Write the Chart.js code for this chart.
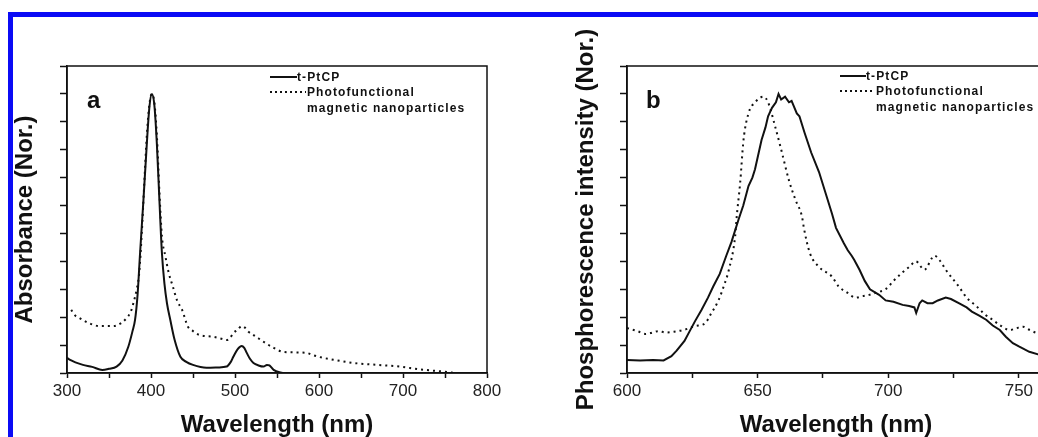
<!DOCTYPE html>
<html>
<head>
<meta charset="utf-8">
<script src="https://cdn.jsdelivr.net/npm/chart.js@4/dist/chart.umd.min.js"></script>
<style>
  html, body { margin: 0; padding: 0; background: #fff; }
  body { width: 1038px; height: 437px; overflow: hidden; position: relative; font-family: "Liberation Sans", Arial, sans-serif; }
  canvas { position: absolute; top: 0; }
  #frame { position: absolute; left: 8px; top: 12px; width: 1040px; height: 440px; border-top: 5px solid #0b0bf5; border-left: 5px solid #0b0bf5; box-sizing: border-box; pointer-events: none; }
  .tag { position: absolute; font: bold 24px "Liberation Sans", Arial, sans-serif; color: #111; line-height: 1; }
  .leg { position: absolute; font: bold 12px "Liberation Sans", Arial, sans-serif; letter-spacing: 1.1px; color: #111; line-height: 1; white-space: nowrap; }
  .solid { position: absolute; height: 2px; background: #111; }
  .dots { position: absolute; height: 2px; background: repeating-linear-gradient(to right, #111 0 2px, transparent 2px 5px); }
</style>
</head>
<body>
<canvas id="chartA" width="519" height="437" style="left:0"></canvas>
<canvas id="chartB" width="500" height="437" style="left:560px"></canvas>
<div id="frame"></div>

<div class="tag" style="left:87px;top:88px">a</div>
<div class="solid" style="left:270px;top:76px;width:27px"></div>
<div class="leg" style="left:297px;top:71px">t-PtCP</div>
<div class="dots" style="left:270px;top:91px;width:36px"></div>
<div class="leg" style="left:307px;top:86px">Photofunctional</div>
<div class="leg" style="left:307px;top:102px">magnetic nanoparticles</div>

<div class="tag" style="left:646px;top:88px">b</div>
<div class="solid" style="left:840px;top:75px;width:26px"></div>
<div class="leg" style="left:866px;top:70px">t-PtCP</div>
<div class="dots" style="left:840px;top:90px;width:35px"></div>
<div class="leg" style="left:876px;top:85px">Photofunctional</div>
<div class="leg" style="left:876px;top:101px">magnetic nanoparticles</div>

<script>
// --- panel a: absorbance ---
const absWl = [300, 305, 310, 319, 330, 342, 350, 359, 366, 373, 378, 381, 384, 387, 391, 395, 398, 401, 404, 407, 410, 413, 416, 419, 423, 428, 435, 442, 450, 466, 480, 490, 495, 498, 503, 508, 511, 514, 518, 522, 528, 534, 538, 541, 546, 554, 560, 580, 600];
const absPtcp = [0.054, 0.045, 0.038, 0.029, 0.022, 0.011, 0.015, 0.023, 0.045, 0.094, 0.15, 0.19, 0.28, 0.43, 0.62, 0.82, 0.95, 1.0, 0.96, 0.82, 0.62, 0.43, 0.32, 0.25, 0.19, 0.12, 0.058, 0.04, 0.029, 0.019, 0.02, 0.023, 0.04, 0.058, 0.085, 0.097, 0.09, 0.072, 0.05, 0.036, 0.027, 0.023, 0.029, 0.027, 0.011, 0.002, 0, 0, 0];

const absWlNp = [305, 310, 315, 325, 339, 355, 365, 371, 376, 379, 383, 386, 389, 392, 395, 398, 401, 404, 407, 410, 413, 417, 421, 426, 431, 437, 444, 450, 458, 474, 485, 490, 494, 498, 503, 508, 512, 516, 522, 530, 538, 545, 557, 570, 585, 593, 601, 620, 641, 670, 696, 720, 748, 762];
const absNp = [0.226, 0.205, 0.197, 0.18, 0.168, 0.168, 0.18, 0.197, 0.22, 0.25, 0.30, 0.36, 0.5, 0.68, 0.85, 0.96, 1.0, 0.97, 0.85, 0.65, 0.49, 0.42, 0.36, 0.31, 0.26, 0.226, 0.166, 0.15, 0.136, 0.13, 0.122, 0.118, 0.125, 0.143, 0.155, 0.168, 0.162, 0.148, 0.136, 0.12, 0.104, 0.092, 0.076, 0.074, 0.072, 0.064, 0.057, 0.046, 0.036, 0.029, 0.023, 0.013, 0.005, 0];

// --- panel b: phosphorescence ---
const phWl = [600, 605, 610, 614, 617, 619, 622, 624, 626, 628.5, 631, 633, 635.5, 638, 640, 642.7, 644.5, 646.5, 648, 649, 651.5, 653, 654, 655.5, 657, 658, 659, 660.5, 662, 663, 665, 666, 668, 670.5, 673.5, 676, 678.5, 680, 683, 684.5, 686, 687, 689, 691, 693, 696.5, 699, 702, 705.5, 708, 710, 710.7, 712, 713, 715, 717, 719, 722, 724, 727, 730, 732, 735, 737.6, 740, 742.7, 745, 747.7, 750, 754, 758, 760];
const phPtcp = [0.047, 0.045, 0.047, 0.045, 0.06, 0.08, 0.115, 0.15, 0.185, 0.226, 0.27, 0.31, 0.355, 0.42, 0.47, 0.55, 0.60, 0.67, 0.70, 0.73, 0.835, 0.88, 0.92, 0.95, 0.97, 1.0, 0.98, 0.99, 0.97, 0.975, 0.93, 0.92, 0.86, 0.79, 0.72, 0.645, 0.57, 0.52, 0.465, 0.44, 0.42, 0.405, 0.37, 0.33, 0.30, 0.28, 0.26, 0.255, 0.244, 0.24, 0.235, 0.215, 0.25, 0.26, 0.25, 0.25, 0.26, 0.27, 0.265, 0.25, 0.235, 0.22, 0.205, 0.19, 0.17, 0.154, 0.13, 0.107, 0.095, 0.076, 0.065, 0.06];

const phWlNp = [600, 604, 607, 609, 612, 615, 618, 622, 626, 630, 632, 635, 637, 639, 641.4, 642, 643.3, 644.6, 646.5, 649, 652.3, 654, 656.8, 659.3, 662, 664.5, 667, 667.7, 670, 673.5, 678.5, 681, 684, 687.6, 690, 692.7, 696, 699, 702, 705.4, 708, 710.6, 713.8, 717.7, 720, 722, 727, 730, 733.7, 737, 740, 743, 746.5, 749, 751.5, 754, 757, 760];
const phNp = [0.161, 0.15, 0.14, 0.143, 0.15, 0.145, 0.148, 0.155, 0.168, 0.179, 0.21, 0.26, 0.31, 0.37, 0.49, 0.56, 0.68, 0.835, 0.93, 0.97, 0.99, 0.97, 0.88, 0.79, 0.69, 0.62, 0.56, 0.52, 0.43, 0.38, 0.345, 0.31, 0.29, 0.27, 0.275, 0.28, 0.29, 0.30, 0.33, 0.36, 0.38, 0.40, 0.37, 0.42, 0.40, 0.37, 0.31, 0.27, 0.24, 0.21, 0.19, 0.17, 0.154, 0.16, 0.166, 0.155, 0.143, 0.14];

const yTicksStep = 0.1;
const yMax = 1.1;

const FONT = '"Liberation Sans", Arial, sans-serif';
const INK = '#111';

// box round the plot (top + right edges)
const boxPlugin = {
    id: 'box',
    afterDraw(chart) {
        const { ctx, chartArea: a } = chart;
        ctx.save();
        ctx.strokeStyle = INK;
        ctx.lineWidth = 1.5;
        ctx.strokeRect(a.left, a.top, a.right - a.left, a.bottom - a.top);
        ctx.restore();
    }
};

function pts(xs, ys) {
    return xs.map((x, i) => ({ x: x, y: ys[i] }));
}

function makeChart(id, cfg) {
    const ctx = document.getElementById(id).getContext('2d');
    return new Chart(ctx, {
        type: 'line',
        data: {
            datasets: [
                {
                    label: 't-PtCP',
                    data: pts(cfg.solidX, cfg.solidY),
                    borderColor: INK,
                    borderWidth: 2,
                    pointRadius: 0,
                    cubicInterpolationMode: cfg.smooth ? 'monotone' : 'default',
                    tension: 0
                },
                {
                    label: 'Photofunctional magnetic nanoparticles',
                    data: pts(cfg.dotX, cfg.dotY),
                    borderColor: INK,
                    borderWidth: 2,
                    borderDash: [2, 4],
                    pointRadius: 0,
                    cubicInterpolationMode: 'monotone',
                    tension: 0
                }
            ]
        },
        options: {
            responsive: false,
            animation: false,
            layout: { padding: { top: 66, right: cfg.padRight, left: 0, bottom: 0 } },
            plugins: { legend: { display: false }, tooltip: { enabled: false } },
            scales: {
                x: {
                    type: 'linear',
                    min: cfg.xMin,
                    max: cfg.xMax,
                    ticks: {
                        stepSize: cfg.step,
                        includeBounds: false,   // keep 750 instead of snapping to 760
                        autoSkip: false,
                        maxRotation: 0,
                        padding: 3,
                        color: '#222',
                        font: { family: FONT, size: 17 },
                        callback: v => (v % cfg.labelEvery === 0 ? v : '')
                    },
                    grid: { drawOnChartArea: false, drawTicks: true, tickLength: 5, tickColor: INK, tickWidth: 1.5 },
                    border: { color: INK, width: 1.5 },
                    title: {
                        display: true,
                        text: 'Wavelength (nm)',
                        color: '#111',
                        font: { family: FONT, size: 24, weight: 'bold', lineHeight: 1 },
                        padding: { top: 0, bottom: 0 }
                    },
                    afterFit: s => { s.height = 64; s.paddingLeft = 0; s.paddingRight = 0; }
                },
                y: {
                    min: 0,
                    max: yMax,
                    ticks: { stepSize: yTicksStep, display: false },
                    grid: { drawOnChartArea: false, drawTicks: true, tickLength: 7, tickColor: INK, tickWidth: 1.5 },
                    border: { color: INK, width: 1.5 },
                    title: {
                        display: true,
                        text: cfg.yTitle,
                        color: '#111',
                        font: { family: FONT, size: 24, weight: 'bold', lineHeight: 1 },
                        padding: { top: cfg.yTitlePad, bottom: 0 }
                    },
                    afterFit: s => { s.width = 67; s.paddingTop = 0; s.paddingBottom = 0; }
                }
            }
        },
        plugins: [boxPlugin]
    });
}

makeChart('chartA', {
    solidX: absWl, solidY: absPtcp, dotX: absWlNp, dotY: absNp, smooth: true,
    xMin: 300, xMax: 800, step: 50, labelEvery: 100, padRight: 32,
    yTitle: 'Absorbance (Nor.)', yTitlePad: 13
});

makeChart('chartB', {
    solidX: phWl, solidY: phPtcp, dotX: phWlNp, dotY: phNp, smooth: false,
    xMin: 600, xMax: 760, step: 25, labelEvery: 50, padRight: 15,
    yTitle: 'Phosphorescence intensity (Nor.)', yTitlePad: 14
});
</script>
</body>
</html>
